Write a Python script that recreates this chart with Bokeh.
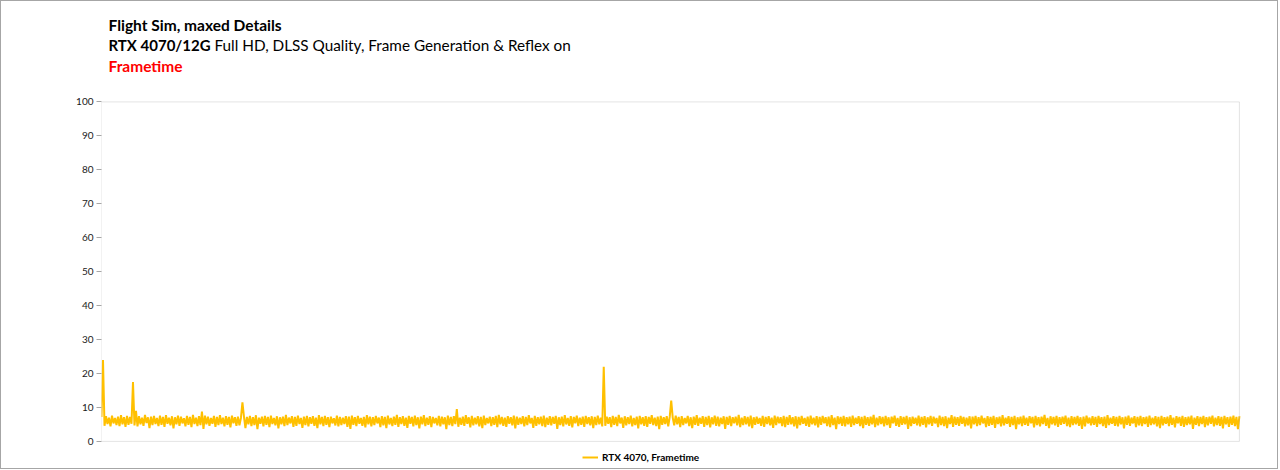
from bokeh.plotting import figure
from bokeh.models import Range1d, Label, Legend, LegendItem, FixedTicker, BoxAnnotation
from bokeh.embed import file_html
from bokeh.resources import INLINE

title_line1 = "Flight Sim, maxed Details"
title_line2_bold = "RTX 4070/12G"
title_line2_rest = "Full HD, DLSS Quality, Frame Generation & Reflex on"
title_line3 = "Frametime"
series_name = "RTX 4070, Frametime"
y_ticks = [0, 10, 20, 30, 40, 50, 60, 70, 80, 90, 100]
y_min, y_max = 0, 100

frametime_ms = [
    7.2, 24.0, 4.6, 7.4, 5.1, 7.0, 4.4, 7.6, 5.3, 6.9, 4.8, 7.3, 4.5, 7.7, 5.0, 7.1, 4.3, 7.5, 4.9, 7.2,
    5.2, 17.5, 4.7, 9.0, 4.4, 7.4, 5.0, 7.0, 4.6, 7.8, 5.4, 7.1, 3.9, 7.3, 4.8, 7.5, 5.1, 6.9, 4.5, 7.6,
    4.9, 7.2, 4.3, 7.7, 5.2, 7.0, 4.7, 7.4, 3.8, 7.1, 5.0, 7.6, 4.6, 7.3, 5.3, 6.8, 4.4, 7.5, 4.9, 7.2,
    4.2, 7.8, 5.1, 7.0, 4.5, 7.4, 4.8, 8.8, 3.7, 7.6, 5.0, 7.3, 4.6, 6.9, 5.2, 7.5, 4.3, 7.2, 4.8, 7.7,
    5.1, 7.0, 4.4, 7.4, 4.9, 7.2, 4.1, 7.6, 5.3, 7.1, 4.6, 7.3, 4.7, 6.9, 11.5, 7.4, 3.9, 7.2, 5.0, 7.5,
    4.5, 7.1, 4.8, 7.7, 3.6, 7.0, 5.2, 7.3, 4.4, 7.5, 4.9, 7.2, 4.2, 7.6, 5.1, 6.9, 4.7, 7.4, 3.8, 7.1,
    5.0, 7.3, 4.5, 7.8, 4.8, 7.0, 5.3, 7.4, 4.3, 7.2, 4.6, 7.6, 5.1, 6.9, 4.0, 7.3, 4.8, 7.5, 4.4, 7.1,
    5.2, 7.4, 4.6, 7.0, 3.9, 7.7, 5.0, 7.2, 4.5, 7.5, 4.9, 7.1, 4.2, 7.3, 5.3, 6.8, 4.7, 7.6, 4.4, 7.2,
    4.8, 7.0, 5.1, 7.4, 4.3, 7.3, 3.7, 7.6, 4.9, 7.1, 4.5, 7.5, 5.2, 6.9, 4.6, 7.2, 4.1, 7.7, 5.0, 7.3,
    4.4, 7.1, 4.8, 7.5, 5.3, 7.0, 4.2, 7.4, 4.7, 7.2, 3.9, 7.6, 5.0, 6.9, 4.5, 7.3, 4.9, 7.8, 4.3, 7.1,
    5.1, 7.4, 4.6, 7.0, 4.0, 7.5, 5.2, 7.2, 4.4, 7.6, 4.8, 7.1, 3.8, 7.3, 5.0, 7.7, 4.5, 7.0, 4.9, 7.4,
    4.2, 7.2, 5.3, 6.9, 4.7, 7.5, 4.4, 7.3, 5.0, 7.1, 3.6, 7.6, 4.8, 7.2, 4.5, 7.4, 5.1, 9.5, 4.3, 7.0,
    4.9, 7.3, 4.6, 7.7, 5.2, 7.1, 4.1, 7.5, 4.7, 7.0, 5.0, 7.4, 4.4, 7.2, 3.9, 7.6, 4.8, 6.9, 5.3, 7.3,
    4.5, 7.1, 4.9, 7.5, 4.2, 7.8, 5.0, 7.2, 4.6, 7.0, 4.3, 7.4, 5.2, 7.1, 4.7, 7.6, 3.8, 7.3, 4.9, 7.0,
    5.1, 7.4, 4.4, 7.2, 4.8, 7.7, 5.3, 6.9, 4.0, 7.5, 4.6, 7.1, 5.0, 7.3, 4.5, 7.6, 4.2, 7.0, 4.9, 7.4,
    4.7, 7.2, 5.2, 7.5, 3.7, 7.1, 4.8, 7.3, 4.4, 7.7, 5.0, 6.9, 4.6, 7.4, 4.1, 7.2, 5.3, 7.6, 4.5, 7.0,
    4.9, 7.3, 4.3, 7.5, 5.1, 7.1, 4.7, 7.4, 3.9, 7.2, 4.8, 7.6, 5.0, 7.0, 4.4, 22.0, 4.6, 7.3, 5.2, 7.1,
    4.2, 7.5, 4.9, 7.2, 4.5, 7.8, 5.3, 7.0, 4.0, 7.4, 4.7, 7.1, 5.1, 7.6, 4.4, 6.9, 4.8, 7.3, 3.8, 7.5,
    5.0, 7.1, 4.6, 7.4, 4.3, 7.2, 5.2, 7.7, 4.8, 7.0, 4.5, 7.3, 3.6, 7.5, 4.9, 7.1, 5.1, 7.4, 4.4, 7.2,
    12.0, 7.0, 4.7, 7.6, 5.0, 7.2, 4.2, 7.4, 4.8, 6.9, 5.3, 7.5, 4.5, 7.1, 3.9, 7.3, 4.9, 7.7, 4.6, 7.0,
    5.2, 7.4, 4.3, 7.2, 4.8, 7.5, 4.1, 7.1, 5.0, 7.6, 4.6, 7.3, 4.4, 7.0, 5.1, 7.4, 3.7, 7.2, 4.9, 7.5,
    4.5, 7.1, 5.3, 7.3, 4.7, 7.8, 4.2, 7.0, 4.8, 7.4, 5.0, 7.2, 4.4, 7.6, 3.9, 7.1, 4.9, 7.3, 5.2, 6.9,
    4.6, 7.5, 4.3, 7.2, 5.1, 7.4, 4.7, 7.0, 4.0, 7.6, 4.8, 7.3, 5.3, 7.1, 4.5, 7.5, 4.2, 7.2, 4.9, 7.7,
    5.0, 7.1, 4.4, 7.4, 3.8, 7.2, 4.8, 7.5, 5.2, 6.9, 4.6, 7.3, 4.3, 7.6, 5.0, 7.0, 4.7, 7.4, 4.1, 7.2,
    4.9, 7.5, 5.3, 7.1, 4.5, 7.3, 4.2, 7.7, 4.8, 7.0, 3.6, 7.4, 5.1, 7.2, 4.6, 7.5, 4.4, 7.1, 5.0, 7.3,
    4.3, 7.6, 4.8, 7.0, 5.2, 7.4, 4.5, 7.2, 3.9, 7.5, 4.9, 7.1, 4.6, 7.3, 5.0, 7.8, 4.2, 7.0, 4.7, 7.4,
    5.1, 7.2, 4.4, 7.5, 4.8, 7.1, 4.0, 7.3, 5.3, 7.6, 4.6, 6.9, 4.3, 7.4, 4.9, 7.2, 5.0, 7.5, 3.7, 7.1,
    4.5, 7.3, 5.2, 7.0, 4.7, 7.6, 4.4, 7.2, 4.9, 7.4, 4.1, 7.1, 5.0, 7.5, 4.6, 7.3, 5.3, 6.9, 4.2, 7.6,
    4.8, 7.2, 4.5, 7.4, 3.9, 7.0, 5.1, 7.7, 4.3, 7.3, 4.9, 7.1, 4.6, 7.5, 5.2, 7.2, 4.4, 7.0, 4.7, 7.4,
    3.8, 7.3, 5.0, 7.5, 4.5, 7.1, 4.8, 7.6, 5.3, 6.9, 4.2, 7.4, 4.6, 7.2, 4.9, 7.5, 4.0, 7.1, 5.1, 7.3,
    4.4, 7.7, 4.7, 7.0, 5.2, 7.4, 4.3, 7.2, 4.8, 7.5, 3.6, 7.1, 5.0, 7.3, 4.5, 7.6, 4.9, 7.0, 4.6, 7.4,
    5.3, 7.2, 4.1, 7.5, 4.8, 7.1, 4.4, 7.3, 5.1, 7.8, 4.6, 6.9, 3.9, 7.4, 5.0, 7.2, 4.7, 7.5, 4.3, 7.1,
    4.9, 7.3, 5.2, 7.6, 4.5, 7.0, 4.2, 7.4, 4.8, 7.2, 5.0, 7.5, 4.6, 7.1, 3.7, 7.3, 4.4, 7.6, 5.3, 7.0,
    4.7, 7.4, 4.9, 7.2, 4.3, 7.5, 5.1, 7.1, 4.5, 7.3, 4.0, 7.7, 4.8, 7.0, 5.2, 7.4, 4.6, 7.2, 4.4, 7.5,
    5.0, 7.1, 3.8, 7.3, 4.9, 7.6, 4.6, 7.0, 5.3, 7.4, 4.2, 7.2, 4.7, 7.5, 4.5, 7.1, 5.1, 7.3, 4.3, 7.6,
    4.8, 7.0, 5.0, 7.4, 4.4, 7.2, 3.9, 7.5, 4.7, 7.1, 5.2, 7.3, 4.5, 7.7, 4.9, 7.0, 4.1, 7.4, 5.3, 7.2,
    4.6, 7.5, 4.3, 7.1, 4.8, 7.3, 5.0, 7.6, 3.7, 7.0, 4.9, 7.4, 4.5, 7.2, 5.1, 7.5, 4.2, 7.1, 4.7, 7.3,
    5.2, 7.6, 4.4, 7.0, 4.8, 7.4, 4.6, 7.2, 3.8, 7.5, 5.0, 7.1, 4.3, 7.3, 4.9, 7.6, 4.5, 7.2, 3.6, 7.4,
]
frame_index = list(range(len(frametime_ms)))

FONT = "Lato"
GRAY = "#A6A6A6"
GOLD = "#FFC000"

# page geometry (pixels): plot area 101..1237 x 101..439, canvas inside a 1px border
PX_PER_UNIT = 338 / (y_max - y_min)
x_last = len(frametime_ms) - 1
PX_PER_FRAME = 1136 / x_last

p = figure(
    width=1278, height=469, output_backend="svg", toolbar_location=None,
    x_range=Range1d(0, x_last + 40 / PX_PER_FRAME),
    y_range=Range1d(y_min - 29 / PX_PER_UNIT, y_max + 100 / PX_PER_UNIT),
    min_border_left=100, min_border_right=0, min_border_top=0, min_border_bottom=0,
)
p.styles = {"border": "1px solid " + GRAY}
p.outline_line_color = None
p.xgrid.visible = False
p.ygrid.visible = False
p.xaxis.visible = False

ax = p.yaxis[0]
ax.ticker = FixedTicker(ticks=y_ticks)
ax.axis_line_color = None
ax.major_tick_line_color = GRAY
ax.major_tick_out = 5
ax.major_tick_in = 0
ax.minor_tick_line_color = None
ax.major_label_text_font = FONT
ax.major_label_text_font_size = "10px"
ax.major_label_text_color = "#1a1a1a"
ax.major_label_standoff = 3

r = p.line(frame_index, frametime_ms, line_color=GOLD, line_width=2.0)

p.add_layout(BoxAnnotation(left=0, right=x_last, bottom=y_min, top=y_max,
                           fill_color=None, fill_alpha=0, line_color=GRAY, line_width=1))

legend = Legend(items=[LegendItem(label=series_name, renderers=[r])],
                orientation="horizontal", location=(481, 6),
                border_line_color=None, background_fill_alpha=0,
                label_text_font=FONT, label_text_font_size="10px", label_text_font_style="bold",
                label_text_color="#000000", glyph_width=16, glyph_height=14, label_height=14,
                label_standoff=4, padding=0, margin=0, spacing=0)
p.add_layout(legend, "center")

def add_text(x, y, text, style="bold", color="#000000", size="15px"):
    p.add_layout(Label(x=x, y=y, x_units="screen", y_units="screen", text=text,
                       text_font=FONT, text_font_size=size, text_font_style=style,
                       text_color=color, text_baseline="alphabetic", text_align="left"))

add_text(7, 446, title_line1, size="15.5px")
add_text(7, 426, title_line2_bold, size="15px")
add_text(113, 426, title_line2_rest, style="normal", size="15.3px")
add_text(7, 405, title_line3, color="#FF0000", size="15.5px")

open("out.html", "w").write(file_html(p, INLINE))
